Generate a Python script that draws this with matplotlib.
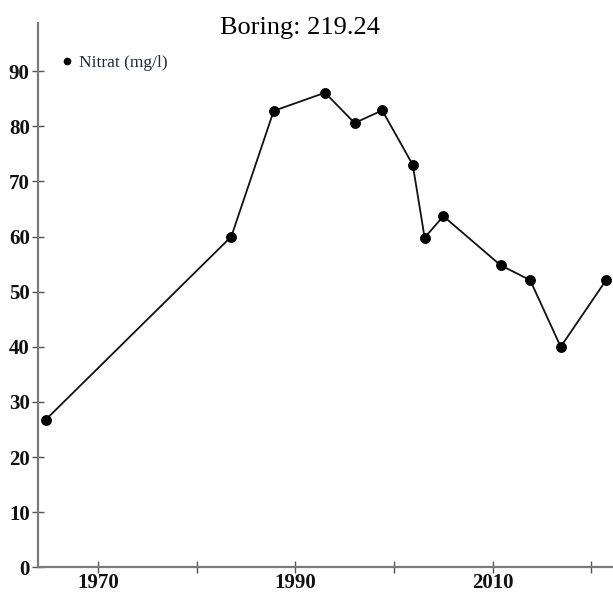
import matplotlib
matplotlib.use("Agg")
import matplotlib.pyplot as plt
from matplotlib.lines import Line2D

# data
years = [1964.7, 1983.5, 1987.8, 1993.0, 1996.0, 1998.8, 2001.9,
         2003.1, 2005.0, 2010.8, 2013.8, 2016.9, 2021.5]
nitrat = [26.8, 60.0, 82.8, 86.1, 80.6, 82.9, 73.0,
          59.8, 63.7, 54.8, 52.1, 40.0, 52.1]
x_ticks = [1970, 1980, 1990, 2000, 2010, 2020]
x_labels = ["1970", "", "1990", "", "2010", ""]
y_ticks = [0, 10, 20, 30, 40, 50, 60, 70, 80, 90]
title = "Boring: 219.24"
series_name = "Nitrat (mg/l)"

plt.rcParams['font.family'] = ['Liberation Serif', 'DejaVu Serif']

fig = plt.figure(figsize=(6.13, 5.92), dpi=100)
ax = fig.add_axes([38 / 613, 24.7 / 592, 1 - 38 / 613, (567.3 - 22.7) / 592])

ax.plot(years, nitrat, color='#111111', linewidth=1.3, marker='o',
        markersize=6.8, markerfacecolor='black', markeredgecolor='black',
        clip_on=False, zorder=3)

ax.set_xlim(1963.9, 2022.2)
ax.set_ylim(0, 98.8)
ax.set_xticks(x_ticks)
ax.set_xticklabels(x_labels)
ax.set_yticks(y_ticks)

for s in ['top', 'right']:
    ax.spines[s].set_visible(False)
for s in ['left', 'bottom']:
    ax.spines[s].set_color('#7a7a7a')
    ax.spines[s].set_linewidth(1.6)

ax.tick_params(axis='both', direction='inout', length=8, width=1.0,
               color='#555555', labelsize=15, pad=2)
ax.tick_params(axis='x', pad=0)
for lab in ax.get_xticklabels() + ax.get_yticklabels():
    lab.set_fontweight('bold')
    lab.set_color('#111111')

fig.text(300 / 613, 1 - 28 / 592, title, ha='center', va='center',
         fontsize=19, color='black')

handle = Line2D([], [], marker='o', color='black', linestyle='None',
                markersize=4.5)
leg = ax.legend([handle], [series_name], loc='upper left',
                bbox_to_anchor=(60 / 613, 1 - 55 / 592),
                bbox_transform=fig.transFigure, frameon=False,
                borderpad=0, borderaxespad=0, handletextpad=0.3,
                handlelength=0.8, fontsize=12.5)
for t in leg.get_texts():
    t.set_color('#1b2a3a')

fig.savefig("out.png", dpi=100)
